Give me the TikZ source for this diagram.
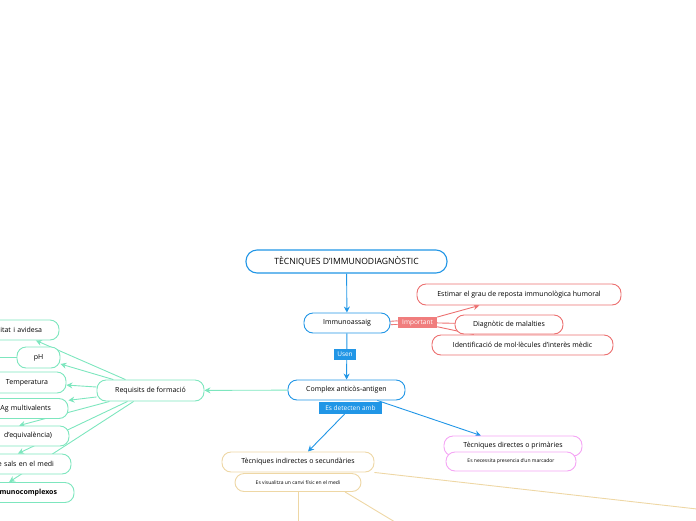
\documentclass[tikz,border=0pt]{standalone}
\usepackage{fontspec}
\setmainfont{Open Sans}
\usetikzlibrary{arrows.meta,
                backgrounds}

\definecolor{mapblue}{RGB}{33,150,230}
\definecolor{mapred}{RGB}{236,112,112}
\definecolor{redfill}{RGB}{240,125,125}
\definecolor{mapgreen}{RGB}{125,230,190}
\definecolor{mappink}{RGB}{245,165,245}
\definecolor{maptan}{RGB}{238,215,165}

\tikzset{
    topic/.style = {draw, fill=white, rounded corners=9pt, line width=0.9pt,
                    inner sep=0pt, font=\fontsize{7}{8}\selectfont},
    subtopic/.style = {topic, font=\fontsize{5}{6}\selectfont},
    cut/.style = {topic, align=right, inner xsep=17pt, minimum height=20pt},
    tag/.style = {inner sep=0pt, text=white, font=\fontsize{6.5}{7}\selectfont},
    link/.style = {line width=0.9pt},
    tip/.style = {-{Stealth[length=6pt,width=6pt]}}
}

\begin{document}
\begin{tikzpicture}%
            [x=1pt, y=-1pt]
            \useasboundingbox (0,0) rectangle (696,520);

            % central branch
            \node [topic, draw=mapblue, line width=1.1pt, rounded corners=11pt,
                   minimum width=201pt, minimum height=23pt,
                   font=\fontsize{8.6}{10}\selectfont] (title) at (346.5,261.5) {TÈCNIQUES D’IMMUNODIAGNÒSTIC};
            \node [topic, draw=mapblue, minimum width=86pt, minimum height=20pt] (imm) at (347,323) {Immunoassaig};
            \node [topic, draw=mapblue, minimum width=117pt, minimum height=20pt] (cmp) at (346.5,390) {Complex anticòs-antigen};
            \node [tag, fill=mapblue, minimum width=22pt, minimum height=11pt] (usen) at (345,354.5) {Usen};
            \node [tag, fill=mapblue, minimum width=63pt, minimum height=12pt] (det) at (350.5,408) {Es detecten amb};

            % important
            \node [topic, draw=mapred, minimum width=204pt, minimum height=21pt] (est) at (519,294.5) {Estimar el grau de reposta immunològica humoral};
            \node [topic, draw=mapred, minimum width=181pt, minimum height=20pt] (ident) at (522.5,345) {Identificació de mol·lècules d’interès mèdic};
            \node [topic, draw=mapred, minimum width=108pt, minimum height=19pt] (diag) at (509,324.5) {Diagnòtic de malalties};
            \node [tag, fill=redfill, minimum width=39pt, minimum height=11pt] (imp) at (417.5,322.5) {Important};

            % tecniques
            \node [topic, draw=mappink, minimum width=138pt, minimum height=20pt] (dir) at (513,446) {Tècniques directes o primàries};
            \node [subtopic, draw=mappink, minimum width=130pt, minimum height=19pt] (nec) at (511,461.5) {Es necessita presencia d’un marcador};
            \node [topic, draw=maptan, minimum width=152pt, minimum height=20pt] (ind) at (298,462) {Tècniques indirectes o secundàries};
            \node [subtopic, draw=maptan, minimum width=126pt, minimum height=18pt] (vis) at (298,482.5) {Es visualitza un canvi físic en el medi};
            \coordinate (offA) at (900,532);
            \coordinate (offB) at (298,540);
            \coordinate (offC) at (410,531);

            % requisits
            \node [topic, draw=mapgreen, minimum width=107pt, minimum height=21pt] (req) at (150.5,390.5) {Requisits de formació};
            \node [cut, draw=mapgreen, text width=60pt] (avi) at (12,330) {itat i avidesa};
            \node [topic, draw=mapgreen, minimum width=43pt, minimum height=21pt] (ph) at (38.5,357.5) {pH};
            \node [topic, draw=mapgreen, minimum width=78pt, minimum height=21pt] (temp) at (27,382.5) {Temperatura};
            \node [cut, draw=mapgreen, text width=102pt] (mult) at (0,408.5) {Ag multivalents};
            \node [cut, draw=mapgreen, text width=144pt] (equ) at (-20,436) {d’equivalència)};
            \node [cut, draw=mapgreen, text width=116pt] (sals) at (-4,464) {e sals en el medi};
            \node [cut, draw=mapgreen, text width=128pt, font=\fontsize{7}{8}\selectfont\bfseries] (imc) at (-7,492.5) {munocomplexos};
            \coordinate (offD) at (-20,357.5);

            \begin{scope}[on background layer]
                \draw [link, mapblue, tip] (title) -- (imm);
                \draw [link, mapblue, tip] (imm) -- (cmp);
                \draw [link, mapblue, tip] (det) -- ([xshift=10pt]ind.north);
                \draw [link, mapblue, tip] (cmp) -- ([xshift=-32pt]dir.north);

                \draw [link, mapred, double=white, double distance=2.5pt] (imm.east) -- (imp.west);
                \draw [link, mapred, tip] (imp) -- (est);
                \draw [link, mapred] (imp) -- (diag);
                \draw [link, mapred] (imp) -- (ident);

                \draw [link, maptan] (ind.south east) -- (offA);
                \draw [link, maptan] (vis.south) -- (offB);
                \draw [link, maptan] ([xshift=47pt]vis.south) -- (offC);

                \draw [link, mapgreen, tip] (cmp) -- (req);
                \draw [link, mapgreen, tip] (req) -- (avi);
                \draw [link, mapgreen, tip] (req) -- (ph);
                \draw [link, mapgreen, tip] (req) -- (temp);
                \draw [link, mapgreen, tip] (req) -- (mult);
                \draw [link, mapgreen, tip] (req) -- (equ);
                \draw [link, mapgreen, tip] (req) -- (sals);
                \draw [link, mapgreen, tip] (req) -- (imc);
                \draw [link, mapgreen] (offD) -- (ph);
            \end{scope}
        \end{tikzpicture}
\end{document}
